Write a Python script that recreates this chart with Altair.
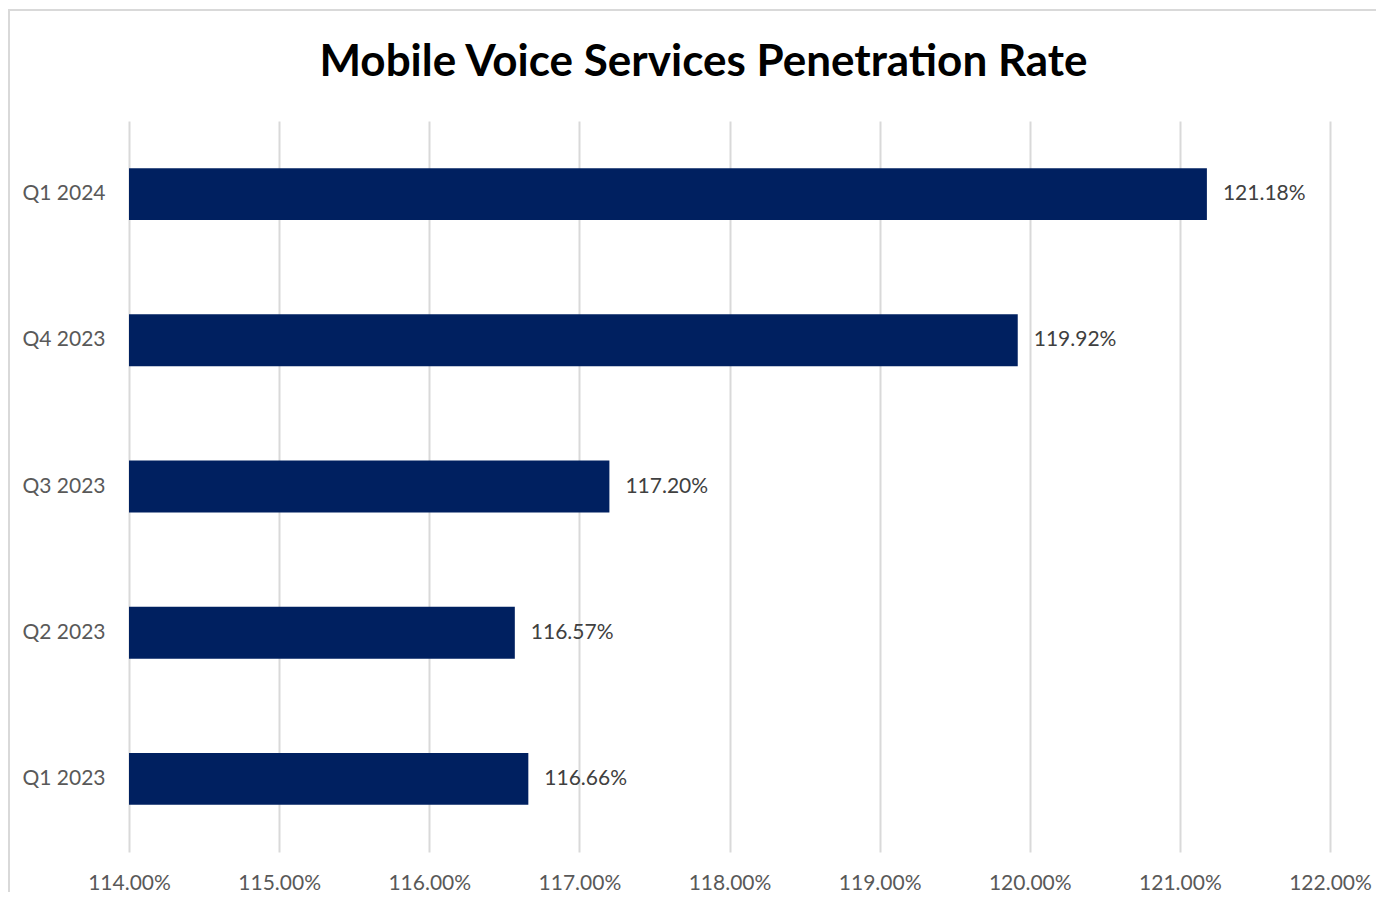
import altair as alt
import pandas as pd

quarters = ["Q1 2024", "Q4 2023", "Q3 2023", "Q2 2023", "Q1 2023"]
rates = [1.2118, 1.1992, 1.1720, 1.1657, 1.1666]
ticks = [1.14, 1.15, 1.16, 1.17, 1.18, 1.19, 1.20, 1.21, 1.22]

df = pd.DataFrame({"quarter": quarters, "rate": rates})
FONT = "Lato"

x = alt.X("rate:Q", scale=alt.Scale(domain=[1.14, 1.22], nice=False, zero=False),
          axis=alt.Axis(values=ticks, format=".2%", title=None, grid=True,
                        gridColor="#d9d9d9", gridWidth=2, domain=False, ticks=False,
                        labelFont=FONT, labelFontSize=21, labelColor="#595959",
                        labelPadding=20, labelFlush=False, labelOverlap=False))
y = alt.Y("quarter:N", sort=quarters,
          scale=alt.Scale(paddingInner=0.645, paddingOuter=0.3225),
          axis=alt.Axis(title=None, domain=False, ticks=False, labelFont=FONT,
                        labelFontSize=21, labelColor="#595959", labelPadding=24))

border = alt.Chart(pd.DataFrame({"a": [0]})).mark_rect(
    fillOpacity=0, stroke="#d9d9d9", strokeWidth=2, clip=False
).encode(x=alt.value(-120), x2=alt.value(1300), y=alt.value(-111), y2=alt.value(800))

bars = alt.Chart(df).mark_bar(color="#002060", clip=True).encode(
    x=x, x2=alt.X2(datum=1.14), y=y)
labels = alt.Chart(df).mark_text(align="left", dx=16, font=FONT, fontSize=21,
                                 color="#404040").encode(
    x="rate:Q", y=alt.Y("quarter:N", sort=quarters), text=alt.Text("rate:Q", format=".2%"))

chart = alt.layer(border, bars, labels).properties(
    width=1201, height=731,
    autosize=alt.AutoSizeParams(type="none"),
    padding={"left": 121, "top": 113, "right": 46, "bottom": 40},
    title=alt.TitleParams("Mobile Voice Services Penetration Rate", font=FONT,
                          fontSize=44, fontWeight="bold", color="#000000",
                          anchor="middle", dx=-26, offset=0, dy=76),
).configure_view(stroke=None)

chart.save("out.html", embed_options={"renderer": "svg", "actions": False})
